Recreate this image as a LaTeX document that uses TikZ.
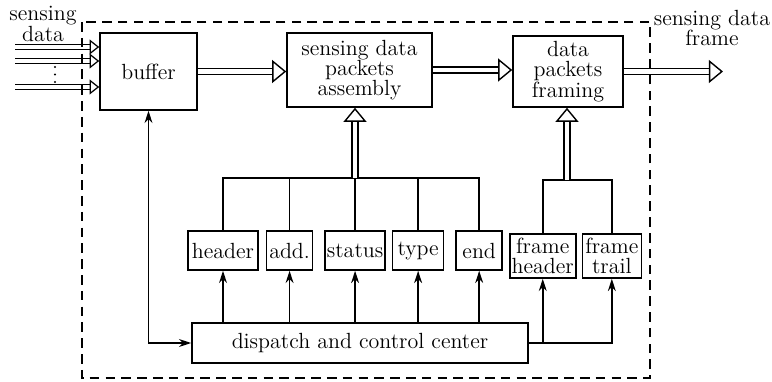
\documentclass[tikz,border=0pt]{standalone}
\usepackage{tikz}
\usetikzlibrary{shapes,arrows,arrows.meta,positioning,calc}
\tikzstyle{block} = [rectangle, draw, line width=0.9pt, align=center,
inner sep=1pt, font=\fontsize{12.5}{11.5}\selectfont]
\tikzstyle{field} = [block, minimum height=0.78cm]
\tikzstyle{label} = [align=center, font=\fontsize{12.5}{11.5}\selectfont]
\tikzstyle{line} = [draw, line width=0.9pt]
\tikzstyle{bus} = [draw, line width=0.8pt, double, double distance=2.8pt,
-{Triangle[open, length=8pt, width=13pt, line width=0.8pt]}]
\tikzstyle{inbus} = [draw, line width=0.7pt, double, double distance=2pt,
-{Triangle[open, length=5.5pt, width=8.5pt, line width=0.7pt]}]

\begin{document}
\begin{tikzpicture}[x=0.02cm, y=-0.02cm, >={Stealth[length=7pt,width=4.5pt]}]
    \useasboundingbox (0,0) rectangle (772,382);

    % Nodes
    \node [block, minimum width=1.94cm, minimum height=1.54cm] (buffer) at (148.5,71.5) {buffer};
    \node [block, minimum width=2.9cm, minimum height=1.48cm] (assembly) at (359.5,70) {sensing data\\packets\\assembly};
    \node [block, minimum width=2.2cm, minimum height=1.42cm] (framing) at (568,71.5) {data\\packets\\framing};

    \node [field, minimum width=1.4cm] (header) at (223,250.5) {header};
    \node [field, minimum width=0.92cm, right=0.14cm of header] (add) {add.};
    \node [field, minimum width=1.16cm, right=0.22cm of add] (status) {status};
    \node [field, minimum width=1.02cm, right=0.12cm of status] (type) {type};
    \node [field, minimum width=0.92cm, right=0.22cm of type] (end) {end};
    \node [field, minimum width=1.32cm, minimum height=0.88cm, right=0.12cm of end, yshift=-0.11cm] (fhead) {frame\\header};
    \node [field, minimum width=1.18cm, minimum height=0.88cm, right=0.1cm of fhead] (ftrail) {frame\\trail};

    \node [block, minimum width=6.72cm, minimum height=0.8cm] (dispatch) at (360,343) {dispatch and control center};

    \node [label] (inlabel) at (43,24) {sensing\\data};
    \node [label] (outlabel) at (712,28) {sensing data\\frame};

    % free ends of the data lines
    \coordinate (in1) at (15,47);
    \coordinate (in2) at (15,61);
    \coordinate (in3) at (15,87);
    \coordinate (out) at (723,71.5);
    \coordinate (join) at (355,178);
    \coordinate (fjoin) at (567,180);

    % Data path
    \foreach \i in {in1,in2,in3}
        \draw[inbus] (\i) -- (\i -| buffer.west);
    \foreach \y in {67,74.5,82}
        \fill (55,\y) circle (0.6pt);
    \draw[bus] (buffer.east) -- (buffer.east -| assembly.west);
    \draw[bus] (assembly.east) -- (assembly.east -| framing.west);
    \draw[bus] (framing.east) -- (out);

    % Packet fields
    \draw[line] (header.north) |- (join) -| (end.north);
    \foreach \f in {add,status,type}
        \draw[line] (\f.north) -- (\f.north |- join);
    \draw[bus] (join) -- (join |- assembly.south);

    % Frame fields
    \draw[line] (fhead.north) |- (fjoin) -| (ftrail.north);
    \draw[bus] (fjoin) -- (fjoin |- framing.south);

    % Control lines
    \foreach \f in {header,add,status,type,end}
        \draw[line, ->] (dispatch.north -| \f) -- (\f.south);
    \draw[line, ->] (dispatch.east) -| (ftrail.south);
    \draw[line, ->] (dispatch.east -| fhead) -- (fhead.south);
    \draw[line, <->] (buffer.south) |- (dispatch.west);

    % Module border
    \draw[line width=0.9pt, dash pattern=on 5.5pt off 3.5pt] (82,22) rectangle (650,378);
\end{tikzpicture}
\end{document}
